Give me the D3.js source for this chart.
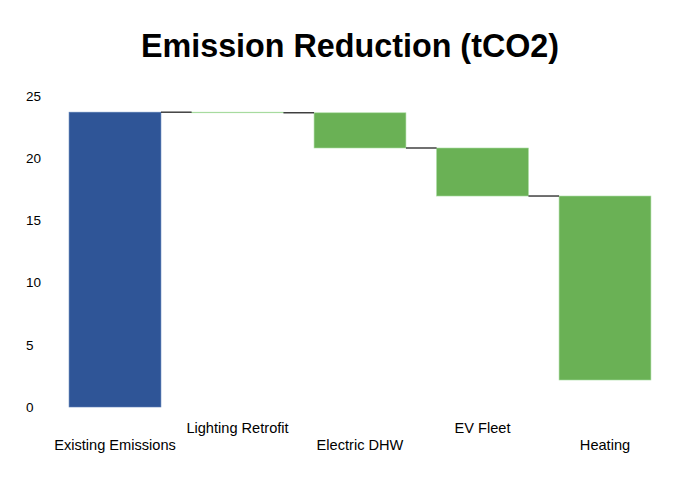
<!DOCTYPE html>
<html>
<head>
<meta charset="utf-8">
<style>
  body { margin: 0; background: #fff; }
  svg { font-family: "Liberation Sans", Arial, sans-serif; }
</style>
</head>
<body>
<svg width="700" height="500"></svg>
<script src="https://cdn.jsdelivr.net/npm/d3@7"></script>
<script>
  // chart data
  var categories = ["Existing Emissions", "Lighting Retrofit", "Electric DHW", "EV Fleet", "Heating"];
  var changes = [23.7, -0.05, -2.83, -3.86, -14.79];
  var yTicks = [0, 5, 10, 15, 20, 25];

  var svg = d3.select("svg");

  // build waterfall steps
  var steps = [];
  var running = 0;
  changes.forEach(function(v, i) {
    var start = running;
    running += v;
    steps.push({ name: categories[i], start: start, end: running, total: i === 0 });
  });

  var x = d3.scaleBand()
    .domain(categories)
    .range([53.75, 666.25])
    .paddingInner(0.25)
    .paddingOuter(0.125);

  var y = d3.scaleLinear()
    .domain([0, 25])
    .range([407, 96]);

  // title
  svg.append("text")
    .attr("x", 350)
    .attr("y", 57)
    .attr("text-anchor", "middle")
    .attr("font-size", 32.3)
    .attr("font-weight", "bold")
    .attr("fill", "#000")
    .text("Emission Reduction (tCO2)");

  // y tick labels (no axis line)
  svg.append("g")
    .selectAll("text")
    .data(yTicks)
    .enter().append("text")
    .attr("x", 26)
    .attr("y", function(d) { return y(d); })
    .attr("dy", "0.35em")
    .attr("font-size", 13.5)
    .attr("fill", "#000")
    .text(function(d) { return d; });

  // bars
  svg.append("g")
    .selectAll("rect")
    .data(steps)
    .enter().append("rect")
    .attr("x", function(d) { return x(d.name); })
    .attr("y", function(d) { return y(Math.max(d.start, d.end)); })
    .attr("width", x.bandwidth())
    .attr("height", function(d) { return Math.abs(y(d.start) - y(d.end)); })
    .attr("fill", function(d) { return d.total ? "#2f5597" : "#6ab155"; })
    .attr("stroke", function(d) { return d.total ? "#5a7db5" : "#a8dca0"; })
    .attr("stroke-width", 0.6);

  // connectors
  svg.append("g")
    .selectAll("line")
    .data(steps.slice(0, -1))
    .enter().append("line")
    .attr("x1", function(d) { return x(d.name) + x.bandwidth(); })
    .attr("x2", function(d, i) { return x(steps[i + 1].name); })
    .attr("y1", function(d) { return y(d.end); })
    .attr("y2", function(d) { return y(d.end); })
    .attr("stroke", "#111")
    .attr("stroke-width", 1.2);

  // category labels, staggered
  svg.append("g")
    .selectAll("text")
    .data(categories)
    .enter().append("text")
    .attr("x", function(d) { return x(d) + x.bandwidth() / 2; })
    .attr("y", function(d, i) { return i % 2 === 0 ? 450 : 433; })
    .attr("text-anchor", "middle")
    .attr("font-size", 14.6)
    .attr("fill", "#000")
    .text(function(d) { return d; });
</script>
</body>
</html>
